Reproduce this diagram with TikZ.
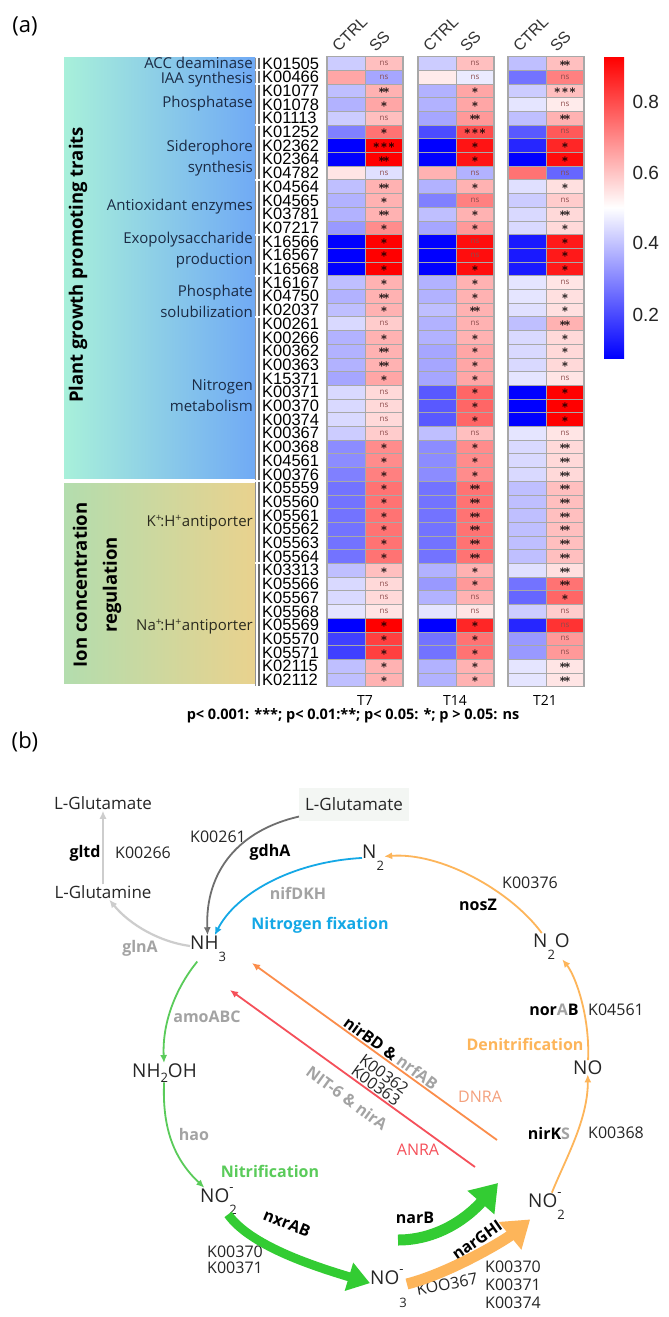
\documentclass[tikz,border=0pt]{standalone}
\usepackage{fontspec}
\setmainfont{Open Sans}
\newfontfamily\arialf{Liberation Sans}
\usetikzlibrary{arrows.meta}

\definecolor{cellgray}{HTML}{A8A8A8}
\definecolor{barg}{HTML}{6A6A6A}
\definecolor{nsred}{HTML}{8C4C4C}
\definecolor{navy}{HTML}{1B2B45}
\definecolor{olive}{HTML}{2B2B1F}
\definecolor{lgray}{HTML}{CDCDCD}
\definecolor{dgray}{HTML}{6E6E6E}
\definecolor{lbgray}{HTML}{A3A3A3}
\definecolor{fixblue}{HTML}{14A8E6}
\definecolor{nitgreen}{HTML}{5ACB5A}
\definecolor{thickgreen}{HTML}{33CC33}
\definecolor{denorange}{HTML}{FDB55A}
\definecolor{dnraorange}{HTML}{FB8D4B}
\definecolor{dnratext}{HTML}{F4A07C}
\definecolor{anrared}{HTML}{F5505A}
\definecolor{mint}{HTML}{A8F0DA}
\definecolor{sky}{HTML}{70AAF5}
\definecolor{sage}{HTML}{B3DDAE}
\definecolor{sand}{HTML}{E9D28E}
\definecolor{boxgray}{HTML}{F3F6F3}

\newcommand{\fsz}[1]{\fontsize{#1}{#1}\selectfont}
\newcommand{\chsub}[1]{\raisebox{-1.2ex}{\fsz{13}#1}}
\newcommand{\chion}[2]{\rlap{\raisebox{1.0ex}{\fsz{13}#1}}\raisebox{-1.2ex}{\fsz{13}#2}}
\newcommand{\hmcolor}[1]{\ifnum#1<0 \edef\hmv{\the\numexpr0-(#1)\relax}\colorlet{hmc}{blue!\hmv!white}\else\colorlet{hmc}{red!#1!white}\fi}
\newcommand{\hmsig}[1]{\ifcase#1 {\color{nsred}\fsz{8}ns}\or{\boldmath$\ast$}\or{\boldmath$\ast\!\ast$}\or{\boldmath$\ast\!\ast\!\ast$}\fi}
\newcommand{\hmcell}[5]{%
  \hmcolor{#3}
  \filldraw[fill=hmc,draw=cellgray,line width=0.7pt] (#1,#2) rectangle ++(38,-13.7);
  \ifnum#4>-1 \node[inner sep=0pt,font=\fsz{12}] (#5) at (#1+19,#2-6.85) {\hmsig{#4}};\fi}

\begin{document}
\begin{tikzpicture}[x=1pt,y=1pt,
  klab/.style={anchor=west,inner sep=0pt,font=\arialf\fsz{16.5}},
  cat/.style={anchor=east,align=right,inner sep=0pt,text=navy,font=\fontsize{15}{21}\selectfont},
  hdr/.style={rotate=45,anchor=south west,inner sep=0pt,font=\arialf\fsz{16},text=black!80},
  species/.style={anchor=base west,inner sep=0pt,font=\fsz{19},text=black!85},
  lab/.style={inner sep=1pt,font=\fsz{16},text=black!85},
  blab/.style={inner sep=1pt,font=\bfseries\fsz{16},text=black},
  glab/.style={inner sep=1pt,font=\bfseries\fsz{16},text=lbgray},
  thinarr/.style={line width=1.8pt,-{Latex[length=8pt,width=7pt]}}]

\useasboundingbox (0,0) rectangle (669,-1317);
\fill[white] (0,0) rectangle (669,-1317);

% (a) heatmap
\node[font=\fsz{22}] (pa) at (25,-26) {(a)};

\shade[left color=mint,right color=sky] (64,-57) rectangle (255,-478);
\shade[left color=sage,right color=sand] (64,-483) rectangle (255,-683);
\node[rotate=90,font=\bfseries\fsz{18.5}] (pgpt) at (78,-265) {Plant growth promoting traits};
\node[rotate=90,align=center,font=\bfseries\fontsize{18.5}{30}\selectfont] (icr) at (97,-585) {Ion concentration\\regulation};

\node[cat] (acc) at (253,-63) {ACC deaminase};
\node[cat] (iaa) at (253,-80) {IAA synthesis};
\node[cat] (pho) at (253,-104) {Phosphatase};
\node[cat] (sid) at (253,-158) {Siderophore\\synthesis};
\node[cat] (ant) at (253,-207) {Antioxidant enzymes};
\node[cat] (eps) at (253,-250) {Exopolysaccharide\\production};
\node[cat] (psol) at (253,-301) {Phosphate\\solubilization};
\node[cat] (nit) at (253,-396) {Nitrogen\\metabolism};
\node[cat,text=olive] (kh) at (253,-523) {K\textsuperscript{+}\kern-2pt:H\textsuperscript{+}antiporter};
\node[cat,text=olive] (nah) at (253,-627) {Na\textsuperscript{+}\kern-2pt:H\textsuperscript{+}antiporter};

\foreach \ga/\gb in {0/0,1/1,2/4,5/8,9/12,13/15,16/18,19/30,31/36,37/45}{
  \draw[line width=1pt,lgray!70!black] (255.5,-56.5-13.7*\ga-1) -- (255.5,-56.5-13.7*\gb-12.7);
  \draw[line width=2.2pt,barg] (258.8,-56.5-13.7*\ga-1) -- (258.8,-56.5-13.7*\gb-12.7);
}

\foreach \kid/\va/\vb/\vc/\vd/\ve/\vf/\sa/\sb/\sc [count=\r from 0] in {
  K01505/-20/25/-20/25/-25/25/0/0/2,
  K00466/35/-35/8/-8/-55/50/0/0/0,
  K01077/-25/30/-30/35/-20/25/2/1/3,
  K01078/-30/35/-30/35/-10/8/1/1/0,
  K01113/-20/25/-35/40/-25/30/0/2/2,
  K01252/-50/55/-70/70/-65/65/1/3/0,
  K02362/-100/100/-100/92/-85/85/3/1/1,
  K02364/-100/100/-100/92/-100/95/2/1/1,
  K04782/10/-12/30/-30/55/-60/0/0/0,
  K04564/-25/30/-30/30/-12/12/2/1/1,
  K04565/-30/30/-50/50/-20/20/1/0/0,
  K03781/-30/30/-25/30/-15/15/2/1/2,
  K07217/-40/45/-35/40/-15/15/1/1/1,
  K16566/-100/100/-100/95/-90/90/1/0/1,
  K16567/-100/100/-100/95/-90/90/1/0/1,
  K16568/-100/100/-100/95/-90/90/1/1/1,
  K16167/-25/30/-30/30/-10/10/1/1/0,
  K04750/-30/30/-30/30/-10/12/2/1/1,
  K02037/-25/30/-25/30/-12/12/1/2/1,
  K00261/-15/20/-30/30/-25/30/0/0/2,
  K00266/-30/30/-30/30/-15/15/1/1/1,
  K00362/-30/30/-35/35/-15/15/2/1/1,
  K00363/-30/30/-35/35/-15/15/2/1/1,
  K15371/-35/35/-35/35/-10/10/1/1/0,
  K00371/-15/15/-65/60/-100/100/0/1/1,
  K00370/-15/15/-65/60/-100/100/0/1/1,
  K00374/-15/15/-65/60/-100/100/0/1/1,
  K00367/-20/20/-25/25/-10/10/0/0/0,
  K00368/-45/45/-45/45/-15/15/1/1/2,
  K04561/-45/45/-45/45/-15/15/1/1/2,
  K00376/-50/50/-45/45/-15/15/1/1/2,
  K05559/-55/55/-55/55/-25/25/1/2/2,
  K05560/-55/55/-55/55/-25/25/1/2/2,
  K05561/-55/55/-55/55/-25/25/1/2/2,
  K05562/-55/55/-55/55/-25/25/1/2/2,
  K05563/-55/55/-55/55/-25/25/1/2/2,
  K05564/-55/55/-55/55/-25/25/1/2/2,
  K03313/-25/25/-30/30/-12/12/1/1/2,
  K05566/-15/15/-40/40/-55/55/0/1/2,
  K05567/-15/15/-30/30/-60/60/0/0/1,
  K05568/-10/10/-10/10/-20/20/0/0/0,
  K05569/-100/100/-100/85/-85/80/1/1/0,
  K05570/-75/75/-55/55/-40/40/1/1/0,
  K05571/-75/75/-55/55/-40/40/1/1/0,
  K02115/-25/30/-30/30/-10/10/1/1/2,
  K02112/-25/30/-30/30/-10/10/1/1/2}{
  \pgfmathsetmacro\yt{-56.5-13.7*\r}
  \node[klab] (k\r) at (262,\yt-6.85) {\kid};
  \hmcell{327}{\yt}{\va}{-1}{}
  \hmcell{365}{\yt}{\vb}{\sa}{sa\r}
  \hmcell{418}{\yt}{\vc}{-1}{}
  \hmcell{456}{\yt}{\vd}{\sb}{sb\r}
  \hmcell{508}{\yt}{\ve}{-1}{}
  \hmcell{546}{\yt}{\vf}{\sc}{sc\r}
}
\foreach \bx in {327,418,508}
  \draw[cellgray,line width=1.2pt] (\bx,-56.5) rectangle ++(76,-630.2);

\node[hdr] (ctrl1) at (339,-53) {CTRL};
\node[hdr] (ss1) at (376,-53) {SS};
\node[hdr] (ctrl2) at (430,-53) {CTRL};
\node[hdr] (ss2) at (467,-53) {SS};
\node[hdr] (ctrl3) at (520,-53) {CTRL};
\node[hdr] (ss3) at (557,-53) {SS};

\shade[top color=red,bottom color=blue,middle color=white] (604,-57) rectangle (624,-358);
\foreach \v/\yy in {0.8/102,0.6/173,0.4/243,0.2/315}
  \node[anchor=west,font=\arialf\fsz{19},text=black!85] (cb\yy) at (629,-\yy) {\v};

\node[font=\fsz{14}] (t7) at (365,-700) {T7};
\node[font=\fsz{14}] (t14) at (455,-700) {T14};
\node[font=\fsz{14}] (t21) at (545,-700) {T21};
\node[font=\bfseries\fsz{14.5}] (pval) at (353,-716) {p< 0.001: ***; p< 0.01:**; p< 0.05: *; p > 0.05: ns};

% (b) nitrogen cycle
\node[font=\fsz{22}] (pb) at (25,-742) {(b)};

\node[lab,font=\fsz{17}] (glutl) at (103,-803) {L-Glutamate};
\node[lab,font=\fsz{17}] (glnl) at (103,-892) {L-Glutamine};
\node[lab,font=\fsz{17},fill=boxgray,inner xsep=6pt,minimum height=33pt] (glutr) at (354,-804) {L-Glutamate};

\node[species] (nh3) at (190,-949) {NH\chsub{3}};
\node[species] (n2) at (362,-858) {N\chsub{2}};
\node[species] (n2o) at (533,-947) {N\chsub{2}O};
\node[species] (no) at (573,-1074) {NO};
\node[species] (no2r) at (528,-1207) {NO\chion{-}{2}};
\node[species] (no3) at (370,-1284) {NO\rlap{\raisebox{1.0ex}{\fsz{13}-}}\raisebox{-2.3ex}{\fsz{13}3}};
\node[species] (no2l) at (200,-1202) {NO\chion{-}{2}};
\node[species] (nh2oh) at (132,-1077) {NH\raisebox{-0.5ex}{\fsz{13}2}OH};

\node[blab] (gltd) at (85,-853) {gltd};
\node[lab] (k266) at (143,-853) {K00266};
\node[lab] (k261) at (218,-837) {K00261};
\node[blab] (gdha) at (270,-852) {gdhA};
\node[glab] (nifdkh) at (298,-893) {nifDKH};
\node[blab,text=fixblue] (nfix) at (320,-925) {Nitrogen fixation};
\node[glab] (glna) at (140,-948) {glnA};
\node[glab] (amo) at (207,-1017) {amoABC};
\node[glab] (hao) at (194,-1134) {hao};
\node[blab,text=nitgreen] (nitr) at (270,-1171) {Nitrification};
\node[blab,rotate=-22] (nxr) at (287,-1223) {nxrAB};
\node[lab,align=left,font=\fontsize{16}{16}\selectfont] (knxr) at (235,-1260) {K00370\\K00371};
\node[lab,rotate=10] (k367) at (447,-1284) {KOO367};
\node[blab,rotate=35] (nargh) at (477,-1240) {narGHI};
\node[blab] (narb) at (415,-1218) {narB};
\node[lab,align=left,font=\fontsize{16}{18}\selectfont] (knar) at (513,-1285) {K00370\\K00371\\K00374};
\node[lab,text=anrared] (anra) at (418,-1150) {ANRA};
\node[lab,text=dnratext] (dnra) at (480,-1097) {DNRA};
\node[blab] (nirks) at (549,-1133) {nirK\textcolor{lbgray}{S}};
\node[lab] (k368) at (616,-1133) {K00368};
\node[blab,text=denorange] (denit) at (525,-1044) {Denitrification};
\node[blab] (norab) at (554,-1010) {nor\textcolor{lbgray}{A}B};
\node[lab] (k4561) at (616,-1010) {K04561};
\node[blab] (nosz) at (478,-905) {nosZ};
\node[lab] (k376) at (530,-883) {K00376};
\node[blab,rotate=-36] (nirbd) at (391,-1053) {nirBD \& \textcolor{lbgray}{nrfAB}};
\node[lab,rotate=-36,align=center,font=\fontsize{16}{14}\selectfont] (k362) at (380,-1080) {K00362\\K00363};
\node[glab,rotate=-36] (nit6) at (347,-1098) {NIT-6 \& nirA};

\coordinate (dnraS) at (497,-1140);
\coordinate (dnraE) at (252,-963);
\coordinate (anraS) at (475,-1167);
\coordinate (anraE) at (230,-990);
\coordinate (narbS) at (398,-1240);
\coordinate (narbE) at (498,-1183);

\draw[thinarr,lgray,line width=2.2pt] (glnl) -- (glutl);
\draw[thinarr,lgray,line width=2.2pt] (nh3) .. controls (160,-942) and (130,-925) .. (glnl);
\draw[thinarr,dgray] (glutr) .. controls (240,-830) and (205,-870) .. (nh3);
\draw[thinarr,fixblue] (n2) .. controls (290,-862) and (235,-895) .. (nh3);
\draw[thinarr,nitgreen] (nh3) .. controls (178,-985) and (162,-1020) .. (nh2oh);
\draw[thinarr,nitgreen] (nh2oh) .. controls (162,-1130) and (175,-1160) .. (no2l);
\draw[thinarr,denorange] (no2r) .. controls (565,-1160) and (588,-1120) .. (no);
\draw[thinarr,denorange] (no) .. controls (590,-1015) and (575,-975) .. (n2o);
\draw[thinarr,denorange] (n2o) .. controls (510,-890) and (440,-852) .. (n2);
\draw[thinarr,dnraorange] (dnraS) -- (dnraE);
\draw[thinarr,anrared] (anraS) -- (anraE);

\draw[thickgreen,line width=9pt,-{Triangle[length=22pt,width=28pt]}] (no2l) .. controls (250,-1245) and (310,-1265) .. (no3);
\draw[thickgreen,line width=11pt,-{Triangle[length=26pt,width=34pt]}] (narbS) .. controls (440,-1240) and (470,-1215) .. (narbE);
\draw[denorange,line width=11pt,-{Triangle[length=26pt,width=34pt]}] (no3) .. controls (450,-1273) and (505,-1240) .. (no2r);
\end{tikzpicture}
\end{document}
